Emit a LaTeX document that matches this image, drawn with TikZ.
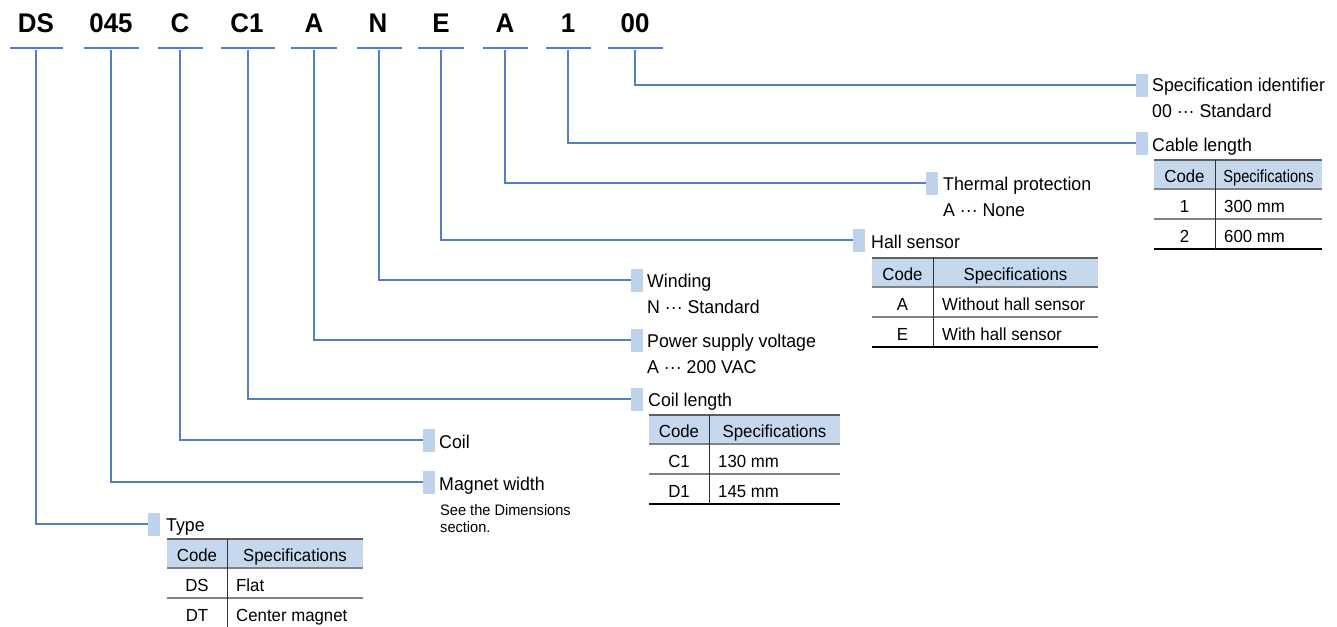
\documentclass[tikz,border=0pt]{standalone}
\usepackage{fontspec}
\usepackage{graphicx}
\setmainfont{Liberation Sans}[FakeStretch=0.96]
\definecolor{conn}{RGB}{80,128,192}
\definecolor{ulc}{RGB}{74,128,205}
\definecolor{mkc}{RGB}{190,210,235}
\definecolor{hdc}{RGB}{197,216,238}
\definecolor{topc}{RGB}{95,95,95}
\definecolor{midc}{RGB}{130,130,130}
\newcommand\spectbl[9]{%
 \fill[hdc] (#1,#4) rectangle (#3,#4+29);
 \draw[tltop] (#1,#4) -- (#3,#4);
 \draw[tlmid] (#1,#4+29) -- (#3,#4+29);
 \draw[tlmid] (#1,#4+59) -- (#3,#4+59);
 \draw[tlbot] (#1,#4+89) -- (#3,#4+89);
 \draw[tdiv] (#2,#4) -- (#2,#4+89);
 \node[tx] (T#6hc) at ({(#1+#2)/2},#4+22) {Code};
 \node[tx] (T#6hs) at ({(#2+#3)/2},#4+22) {#5};
 \node[tx] (T#6c1) at ({(#1+#2)/2},#4+52) {#6};
 \node[tx,anchor=base west] (T#6s1) at (#2+9,#4+52) {#7};
 \node[tx] (T#6c2) at ({(#1+#2)/2},#4+82) {#8};
 \node[tx,anchor=base west] (T#6s2) at (#2+9,#4+82) {#9};
}
\begin{document}
\begin{tikzpicture}[x=1pt,y=-1pt,
  code/.style={font=\fontsize{27}{27}\selectfont\bfseries, anchor=base, inner sep=0},
  uline/.style={fill=ulc, inner sep=0, minimum height=2.8pt, minimum width=#1},
  conn/.style={draw=conn, line width=1.1pt},
  marker/.style={fill=mkc, inner sep=0, minimum width=11.5pt, minimum height=23pt},
  lbl/.style={font=\fontsize{18.5}{18.5}\selectfont, anchor=base west, inner sep=0},
  small/.style={font=\fontsize{15.2}{15.2}\selectfont, anchor=base west, inner sep=0},
  tx/.style={font=\fontsize{17.5}{17.5}\selectfont, anchor=base, inner sep=0},
  tltop/.style={draw=topc, line width=1.6pt},
  tlmid/.style={draw=midc, line width=1.4pt},
  tlbot/.style={draw=black, line width=1.1pt},
  tdiv/.style={draw=black!80, line width=1pt}]
\useasboundingbox (0,0) rectangle (1337,626);
\clip (0,0) rectangle (1337,626);

% header codes
\node[code] (c1) at (36,33) {DS};
\node[code] (c2) at (111,33) {045};
\node[code] (c3) at (180,33) {C};
\node[code] (c4) at (247,33) {C1};
\node[code] (c5) at (314,33) {A};
\node[code] (c6) at (378,33) {N};
\node[code] (c7) at (441,33) {E};
\node[code] (c8) at (505,33) {A};
\node[code] (c9) at (568,33) {1};
\node[code] (c10) at (635,33) {00};

% underlines
\node[uline=53] (u1) at (36,48) {};
\node[uline=55] (u2) at (111,48) {};
\node[uline=45] (u3) at (180,48) {};
\node[uline=54] (u4) at (248,48) {};
\node[uline=46] (u5) at (314,48) {};
\node[uline=45] (u6) at (379,48) {};
\node[uline=46] (u7) at (441,48) {};
\node[uline=45] (u8) at (505,48) {};
\node[uline=45] (u9) at (568,48) {};
\node[uline=55] (u10) at (635,48) {};

% markers
\node[marker] (m10) at (1142,85) {};
\node[marker] (m9) at (1142,143) {};
\node[marker] (m8) at (932,183) {};
\node[marker] (m7) at (859,240) {};
\node[marker] (m6) at (637,280) {};
\node[marker] (m5) at (637,340) {};
\node[marker] (m4) at (637,399) {};
\node[marker] (m3) at (429,440) {};
\node[marker] (m2) at (429,482) {};
\node[marker] (m1) at (154,524) {};

% connectors
\draw[conn] (u10.south) |- (m10.west);
\draw[conn] (u9.south) |- (m9.west);
\draw[conn] (u8.south) |- (m8.west);
\draw[conn] (u7.south) |- (m7.west);
\draw[conn] (u6.south) |- (m6.west);
\draw[conn] (u5.south) |- (m5.west);
\draw[conn] (u4.south) |- (m4.west);
\draw[conn] (u3.south) |- (m3.west);
\draw[conn] (u2.south) |- (m2.west);
\draw[conn] (u1.south) |- (m1.west);

% labels
\node[lbl] (l10) at (1152,91) {Specification identifier};
\node[lbl] (l10b) at (1152,117) {00 ··· Standard};
\node[lbl] (l9) at (1152,151) {Cable length};
\node[lbl] (l8) at (943,190) {Thermal protection};
\node[lbl] (l8b) at (943,216) {A ··· None};
\node[lbl] (l7) at (871,248) {Hall sensor};
\node[lbl] (l6) at (647,287) {Winding};
\node[lbl] (l6b) at (647,313) {N ··· Standard};
\node[lbl] (l5) at (647,347) {Power supply voltage};
\node[lbl] (l5b) at (647,373) {A ··· 200 VAC};
\node[lbl] (l4) at (648,406) {Coil length};
\node[lbl] (l3) at (439,448) {Coil};
\node[lbl] (l2) at (439,490) {Magnet width};
\node[small] (l2b) at (440,515) {See the Dimensions};
\node[small] (l2c) at (440,532) {section.};
\node[lbl] (l1) at (166,531) {Type};

% tables
\spectbl{1154}{1215}{1322}{160}{\scalebox{0.87}[1]{Specifications}}{1}{300 mm}{2}{600 mm}
\spectbl{872}{933}{1098}{258}{Specifications}{A}{Without hall sensor}{E}{With hall sensor}
\spectbl{649}{709}{840}{415}{Specifications}{C1}{130 mm}{D1}{145 mm}
\spectbl{167}{227}{363}{539}{Specifications}{DS}{Flat}{DT}{Center magnet}
\end{tikzpicture}
\end{document}
